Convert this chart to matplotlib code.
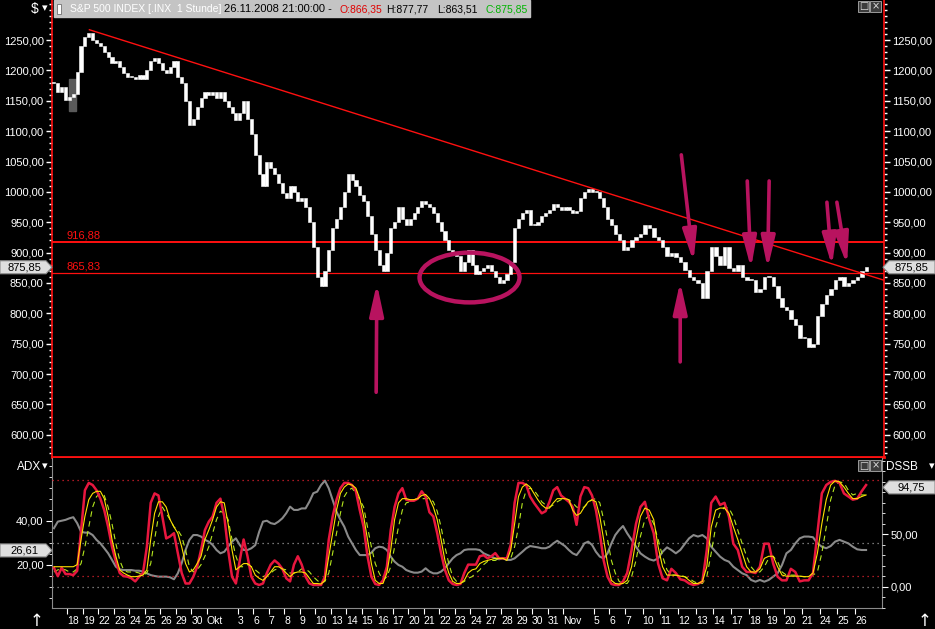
import numpy as np
import matplotlib
matplotlib.use('Agg')
import matplotlib.pyplot as plt
from matplotlib.patches import Ellipse, Rectangle, Polygon
from matplotlib.ticker import FuncFormatter, MultipleLocator, FixedLocator

plt.rcParams['font.family'] = ['Liberation Sans', 'DejaVu Sans']

# ---- data -------------------------------------------------------------
# trading days (tick labels, '' = no label) and hourly bars per day
day_labels = ['', '18', '19', '22', '23', '24', '25', '26', '29', '30',
              'Okt', '', '3', '6', '7', '8', '9', '10', '13', '14', '15', '16', '17',
              '20', '21', '22', '23', '24', '27', '28', '29', '30', '31',
              'Nov', '', '5', '6', '7', '10', '11', '12', '13', '14',
              '17', '18', '19', '20', '21', '24', '25', '26']
bars_per_day = [7] * 37 + [8] * 14

# S&P 500 hourly price, 4 readings per day (Sep 17 .. Nov 26 2008)
price = [
    1180, 1165, 1172, 1152, 1157, 1162, 1198, 1240,
    1255, 1262, 1250, 1245, 1240, 1230, 1222, 1213,
    1215, 1205, 1195, 1190, 1190, 1186, 1192, 1186,
    1200, 1215, 1220, 1212, 1200, 1195, 1205, 1215,
    1190, 1180, 1150, 1110, 1120, 1140, 1155, 1165,
    1160, 1165, 1155, 1165, 1150, 1140, 1130, 1118,
    1130, 1150, 1120, 1095, 1060, 1030, 1010, 1050,
    1040, 1030, 1015, 998, 990, 1010, 1000, 985,
    990, 975, 950, 910, 860, 845, 870, 905,
    940, 955, 975, 1000, 1030, 1020, 1010, 995,
    985, 960, 930, 905, 880, 870, 900, 940,
    950, 975, 955, 945, 955, 965, 975, 985,
    980, 975, 965, 950, 935, 920, 905, 900,
    895, 870, 885, 905, 880, 865, 870, 875,
    880, 870, 860, 850, 855, 865, 885, 940,
    955, 965, 970, 945, 945, 950, 960, 965,
    970, 980, 975, 970, 975, 970, 965, 968,
    990, 1000, 1005, 1000, 1000, 990, 975, 955,
    945, 930, 920, 905, 910, 920, 925, 930,
    945, 940, 925, 920, 910, 895, 900, 893,
    885, 872, 860, 855, 850, 825, 870, 910,
    895, 880, 910, 875, 870, 880, 860, 855,
    855, 835, 840, 860, 860, 845, 825, 810,
    805, 790, 780, 760, 760, 745, 750, 795,
    815, 830, 840, 855, 860, 845, 850, 855,
    860, 870, 876,
]

# DSSB indicator lines
dss_fast = [
    18, 10, 18, 12, 12, 11, 15, 54,
    92, 99, 97, 92, 84, 73, 57, 38,
    24, 13, 10, 9.5, 8, 5, 9.5, 13,
    38, 80, 89, 87, 67, 46, 48, 51,
    32, 13, 3, 3, 9.5, 19, 35, 54,
    62, 67, 80, 84, 67, 35, 9.5, 3,
    25, 45, 29, 9.5, 3, 1.6, 3, 13,
    21, 25, 22, 17, 8, 5, 21, 29,
    21, 9.5, 3, 1.6, 1.6, 1.6, 9.5, 45,
    67, 83, 94, 99, 99, 97, 91, 73,
    57, 29, 9.5, 2.5, 1.6, 6, 19, 54,
    76, 89, 94, 83, 82, 82, 84, 91,
    86, 71, 67, 51, 32, 16, 6, 2.5,
    1.6, 2.5, 13, 21, 21, 21, 29, 30,
    27, 29, 32, 27, 27, 27, 40, 80,
    99, 99, 97, 86, 80, 75, 70, 72,
    81, 92, 95, 87, 84, 81, 76, 59,
    86, 95, 94, 87, 73, 51, 25, 9.5,
    2.5, 1.6, 1.6, 5, 13, 35, 60, 76,
    81, 64, 51, 22, 8, 6, 17, 13,
    7, 6, 3, 1.6, 2.5, 5, 35, 80,
    86, 78, 80, 67, 41, 35, 19, 14,
    14, 13, 19, 41, 41, 22, 9.5, 6,
    6, 17, 14, 5, 6, 6, 13, 51,
    89, 97, 100, 101, 99, 89, 86, 83,
    84, 91, 97,
]
dss_signal = [
    19, 19, 19, 19, 19, 19, 21, 45,
    67, 83, 89, 91, 91, 84, 67, 45,
    29, 16, 13, 11, 9.5, 9.5, 10, 11,
    16, 45, 70, 81, 81, 76, 64, 57,
    51, 38, 22, 14, 16, 22, 29, 45,
    54, 64, 76, 81, 80, 60, 35, 16,
    19, 22, 22, 19, 11, 8, 6, 9.5,
    14, 19, 19, 17, 13, 9.5, 13, 14,
    14, 13, 8, 3, 3, 2.5, 6, 29,
    51, 73, 89, 95, 98, 97, 94, 84,
    67, 45, 22, 6, 3, 3, 13, 35,
    64, 80, 84, 84, 83, 83, 84, 87,
    88, 84, 76, 64, 45, 25, 13, 5,
    3, 3, 6, 13, 16, 17, 22, 24,
    25, 26, 27, 27, 27, 25, 35, 60,
    86, 95, 98, 95, 89, 83, 78, 75,
    75, 80, 84, 84, 84, 83, 73, 68,
    70, 76, 81, 83, 81, 67, 45, 22,
    6, 3, 2.5, 3, 6, 19, 45, 67,
    75, 73, 64, 38, 19, 11, 11, 11,
    10, 9.5, 6, 3, 3, 5, 19, 57,
    73, 75, 75, 70, 57, 45, 32, 19,
    14, 14, 17, 27, 29, 29, 19, 11,
    10, 10, 10, 10, 9.5, 9.5, 13, 32,
    60, 83, 97, 101, 100, 95, 89, 84,
    84, 86, 87.5,
]
dss_slow = [
    14, 16, 17, 16, 14, 14, 17, 22,
    38, 57, 76, 86, 89, 87, 76, 60,
    41, 25, 16, 14, 14, 14, 13, 11,
    13, 22, 45, 67, 76, 70, 64, 57,
    54, 48, 35, 19, 14, 16, 21, 29,
    38, 51, 64, 72, 70, 64, 45, 29,
    19, 19, 21, 19, 16, 13, 9.5, 11,
    13, 16, 17, 17, 16, 13, 13, 14,
    17, 17, 14, 9.5, 6, 3, 5, 13,
    32, 51, 70, 86, 92, 94, 89, 83,
    76, 57, 38, 22, 13, 6, 9.5, 19,
    38, 57, 73, 80, 81, 83, 84, 84,
    84, 84, 81, 72, 57, 38, 22, 9.5,
    5, 3, 5, 8, 9.5, 13, 16, 21,
    24, 25, 25, 27, 27, 27, 27, 38,
    57, 80, 92, 94, 92, 87, 81, 78,
    76, 78, 81, 83, 84, 83, 80, 76,
    75, 76, 80, 83, 84, 80, 64, 45,
    25, 13, 5, 3, 3, 9.5, 25, 48,
    64, 68, 60, 45, 29, 16, 11, 11,
    11, 9.5, 8, 5, 3, 3, 9.5, 32,
    57, 70, 76, 75, 67, 54, 41, 29,
    19, 14, 14, 19, 27, 29, 24, 14,
    11, 11, 11, 10, 9.5, 9.5, 11, 14,
    32, 57, 83, 97, 100, 99, 92, 87.5,
    89, 87.5, 87.5,
]
adx = [
    36.7, 39.7, 40.1, 40.5, 41.2, 41.7, 39.0, 35.1,
    34.7, 34.7, 33.6, 31.4, 29.8, 27.6, 25.3, 22.3,
    19.2, 18.0, 17.7, 17.7, 17.7, 17.4, 17.4, 17.0,
    16.2, 15.4, 15.0, 14.7, 14.7, 14.7, 14.4, 13.5,
    16.2, 20.8, 26.8, 31.4, 33.6, 33.6, 32.9, 31.4,
    30.6, 29.1, 26.8, 25.3, 26.0, 28.3, 30.6, 32.1,
    29.1, 26.8, 26.8, 27.6, 29.0, 35.0, 39.7, 40.1,
    39.0, 38.6, 39.7, 41.2, 43.5, 46.5, 45.0, 45.0,
    45.7, 45.7, 48.8, 52.6, 53.3, 56.3, 58.3, 54.8,
    49.5, 44.2, 40.5, 37.4, 32.9, 29.8, 26.8, 24.5,
    24.5, 24.5, 25.6, 27.6, 28.3, 28.0, 26.8, 23.8,
    21.5, 20.0, 19.2, 17.7, 17.0, 16.5, 16.5, 17.0,
    18.5, 17.0, 16.2, 16.2, 17.0, 18.5, 20.8, 23.0,
    24.5, 25.3, 26.8, 27.1, 27.1, 27.1, 26.8, 25.3,
    24.5, 23.8, 23.0, 22.6, 23.0, 22.3, 22.3, 23.0,
    24.5, 26.0, 27.6, 28.6, 28.3, 28.0, 27.6, 27.6,
    28.3, 29.8, 31.0, 29.8, 28.6, 26.8, 25.3, 24.5,
    26.8, 29.8, 30.6, 29.1, 26.0, 23.8, 23.0, 25.3,
    29.8, 33.6, 35.9, 37.7, 34.4, 31.4, 28.3, 25.3,
    23.8, 22.6, 22.0, 23.0, 26.0, 28.0, 26.8, 25.3,
    26.8, 29.5, 32.1, 33.6, 32.9, 33.6, 32.1, 28.3,
    26.0, 23.8, 22.3, 21.5, 19.2, 17.7, 16.2, 15.4,
    13.2, 12.4, 13.2, 12.4, 13.2, 14.7, 16.2, 20.0,
    25.3, 26.8, 29.8, 32.1, 32.9, 32.9, 32.6, 29.8,
    28.3, 27.6, 28.6, 30.6, 31.4, 30.6, 29.8, 28.3,
    27.1, 26.8, 26.8,
]

levels = [916.88, 865.83]
trend_x, trend_y = [16.9, 376], [1267, 854.5]
last_close, last_adx, last_dss = 875.85, 26.61, 94.75

# ---- geometry -----------------------------------------------------------
W, H = 935, 629
fig = plt.figure(figsize=(W / 100, H / 100), dpi=100, facecolor='black')


def fx(px):
    return px / W


def fy(py):
    return 1 - py / H


day_start = np.concatenate([[0], np.cumsum(bars_per_day)[:-1]])
xs, widths = [], []
for i, (s, L) in enumerate(zip(day_start, bars_per_day)):
    n = 3 if i == len(bars_per_day) - 1 else 4
    for k in range(n):
        xs.append(s + (k + 0.5) * L / 4)
        widths.append(L / 4 * 0.8)
xs = np.array(xs)

fmt = FuncFormatter(lambda v, p: f'{v:.2f}'.replace('.', ','))
RED = '#FF1010'
MAG = '#B8135F'

# ---- main price panel ---------------------------------------------------
ax = fig.add_axes([fx(52), fy(457), fx(884) - fx(52), fy(0) - fy(457)])
ax.set_facecolor('black')
ax.set_xlim(0, 376)
ax.set_ylim(563.4, 1316)
ax.spines['top'].set_visible(False)
ax.spines['left'].set_color(RED)
ax.spines['right'].set_color(RED)
ax.spines['bottom'].set_color(RED)
ax.spines['left'].set_linewidth(1.2)
ax.spines['right'].set_linewidth(1.2)
ax.spines['bottom'].set_linewidth(2)
ax.set_xticks([])
ax.yaxis.set_major_locator(FixedLocator(np.arange(600, 1251, 50)))
ax.yaxis.set_minor_locator(MultipleLocator(10))
ax.yaxis.set_major_formatter(fmt)
ax.tick_params(axis='y', which='major', colors='white', length=4, width=1,
               labelsize=8, pad=2, left=True, right=True,
               labelleft=True, labelright=True)
ax.tick_params(axis='y', which='minor', colors='white', length=2.5, width=1,
               left=True, right=True)

ax.add_patch(Rectangle((7.7, 1133), 3.0, 53, color='#5a5a5a', zorder=1))

opens = np.r_[price[0], price[:-1]]
closes = np.array(price, dtype=float)
lo = np.minimum(opens, closes)
hgt = np.maximum(np.abs(closes - opens), 1.5)
ax.bar(xs, hgt, bottom=lo, width=widths, color='white', edgecolor='white',
       linewidth=0.4, zorder=3)

ax.axhline(levels[0], color=RED, lw=1.4, zorder=2)
ax.axhline(levels[1], color=RED, lw=0.9, zorder=2)
for v in levels:
    ax.text(0.018, v + 3, f'{v:.2f}'.replace('.', ','), color=RED, fontsize=8,
            transform=ax.get_yaxis_transform(), va='bottom', ha='left')
ax.plot(trend_x, trend_y, color=RED, lw=1, zorder=4)

# annotations
ax.add_patch(Ellipse((188.7, 859), 45.2, 82, fill=False, ec=MAG, lw=3.2, zorder=5))
arrows = [((146.8, 849), (146.5, 670)), ((283.9, 852), (283.9, 720)),
          ((289.9, 885), (284.4, 1061)), ((315.9, 874), (314.2, 1018)),
          ((323.4, 874), (324.1, 1018)), ((352.5, 878), (350.2, 983)),
          ((359.3, 880), (354.7, 983))]
for tip, base in arrows:
    ax.annotate('', xy=tip, xytext=base, zorder=6,
                arrowprops=dict(arrowstyle='-|>,head_length=1.9,head_width=0.42',
                                color=MAG, lw=2.6, mutation_scale=10,
                                shrinkA=0, shrinkB=0))

# ---- indicator panel ----------------------------------------------------
axa = fig.add_axes([fx(52), fy(608), fx(882) - fx(52), fy(458) - fy(608)])
axa.set_facecolor('black')
axa.set_xlim(0, 375.2)
axa.set_ylim(0.45, 68.6)
axd = axa.twinx()
axd.set_ylim(-20.4, 122.8)

for s in axa.spines.values():
    s.set_color('#8a8a8a')
axa.spines['top'].set_visible(False)
for s in axd.spines.values():
    s.set_visible(False)

axa.axhline(30, color='#9a9a9a', lw=0.9, ls=(0, (1, 3)))
axa.axhline(10, color='#9a9a9a', lw=0.9, ls=(0, (1, 3)))
axd.axhline(102, color='#E0202F', lw=0.9, ls=(0, (1, 3)))
axd.axhline(10, color='#E0202F', lw=0.9, ls=(0, (1, 3)))

axa.plot(xs, adx, color='#8a8a8a', lw=1.5)
axd.plot(xs, dss_slow, color='#B4E61E', lw=0.8, ls=(0, (5, 4)))
axd.plot(xs, dss_fast, color='#E8173F', lw=1.8)
axd.plot(xs, dss_signal, color='#FFE100', lw=0.8)

axa.yaxis.set_major_locator(FixedLocator([20, 40]))
axa.yaxis.set_minor_locator(MultipleLocator(5))
axa.yaxis.set_major_formatter(fmt)
axa.tick_params(axis='y', which='major', colors='white', length=4, labelsize=8, pad=2)
axa.tick_params(axis='y', which='minor', colors='white', length=2.5)
axd.yaxis.set_major_locator(FixedLocator([0, 50]))
axd.yaxis.set_minor_locator(MultipleLocator(10))
axd.yaxis.set_major_formatter(fmt)
axd.tick_params(axis='y', which='major', colors='white', length=4, labelsize=8, pad=2)
axd.tick_params(axis='y', which='minor', colors='white', length=2.5)

tick_pos = [day_start[i] for i, lab in enumerate(day_labels) if lab]
tick_lab = [lab for lab in day_labels if lab]
axa.set_xticks(tick_pos)
axa.set_xticklabels(tick_lab, ha='left')
axa.tick_params(axis='x', colors='white', length=4, pad=2, labelsize=7.5)

# ---- header, labels, value boxes ----------------------------------------
fig.patches.append(Rectangle((fx(54), fy(17)), fx(530) - fx(54), 17 / H,
                             transform=fig.transFigure, color='#c4c4c4', zorder=10))
fig.patches.append(Rectangle((fx(57), fy(14)), 4 / W, 10 / H,
                             transform=fig.transFigure, fc='white', ec='#707070',
                             lw=0.6, zorder=11))
head = [(69.6, 'S&P 500 INDEX [.INX  1 Stunde]', 'white', 7.5),
        (224, '26.11.2008 21:00:00 -', 'black', 8.0),
        (340, 'O:866,35', '#E00000', 7.5),
        (386, 'H:877,77', 'black', 7.5),
        (437.5, 'L:863,51', 'black', 7.5),
        (486, 'C:875,85', '#00B400', 7.5)]
for px, t, c, sz in head:
    fig.text(fx(px), fy(9), t, color=c, fontsize=sz, va='center', ha='left', zorder=12)

fig.text(fx(31), fy(9), '$', color='white', fontsize=10, va='center', ha='left')
fig.text(fx(42), fy(8), '▾', color='white', fontsize=8, va='center', ha='left')
fig.text(fx(17), fy(467), 'ADX', color='white', fontsize=8.5, va='center', ha='left')
fig.text(fx(42), fy(466), '▾', color='white', fontsize=8, va='center', ha='left')
fig.text(fx(886), fy(467), 'DSSB', color='white', fontsize=8.5, va='center', ha='left')
fig.text(fx(929), fy(466), '▾', color='white', fontsize=8, va='center', ha='left')
fig.text(fx(37), fy(621), '↑', color='white', fontsize=12, va='center', ha='center',
         family='DejaVu Sans')
fig.text(fx(925), fy(621), '↑', color='white', fontsize=12, va='center', ha='center',
         family='DejaVu Sans')


def win_icons(py):
    for i, sym in enumerate(['□', '×']):
        x0 = 858 + 12 * i
        fig.patches.append(Rectangle((fx(x0), fy(py + 11)), 11 / W, 11 / H,
                                     transform=fig.transFigure, fc='#3c3c3c',
                                     ec='#9a9a9a', lw=0.7, zorder=11))
        fig.text(fx(x0 + 5.5), fy(py + 5.5), sym, color='#e0e0e0', fontsize=7,
                 ha='center', va='center', family='DejaVu Sans', zorder=12)


win_icons(1)
win_icons(460)


def value_box(axis, v, text, side):
    yc = H - axis.transData.transform((0, v))[1]
    h = 13
    if side == 'left':
        x0, x1 = 0, 52
        pts = [(x0, yc - h / 2), (x1 - 6, yc - h / 2), (x1, yc),
               (x1 - 6, yc + h / 2), (x0, yc + h / 2)]
        tx = 24
    else:
        x0, x1 = 883, 935
        pts = [(x1, yc - h / 2), (x0 + 6, yc - h / 2), (x0, yc),
               (x0 + 6, yc + h / 2), (x1, yc + h / 2)]
        tx = 911
    pts = [(fx(a), fy(b)) for a, b in pts]
    fig.patches.append(Polygon(pts, closed=True, transform=fig.transFigure,
                               fc='#dedede', ec='#8c8c8c', lw=0.8, zorder=11))
    fig.text(fx(tx), fy(yc), text, color='black', fontsize=8, ha='center',
             va='center', zorder=12)


value_box(ax, last_close, '875,85', 'left')
value_box(ax, last_close, '875,85', 'right')
value_box(axa, last_adx, '26,61', 'left')
value_box(axd, last_dss, '94,75', 'right')

fig.savefig('out.png', dpi=100, facecolor='black')
